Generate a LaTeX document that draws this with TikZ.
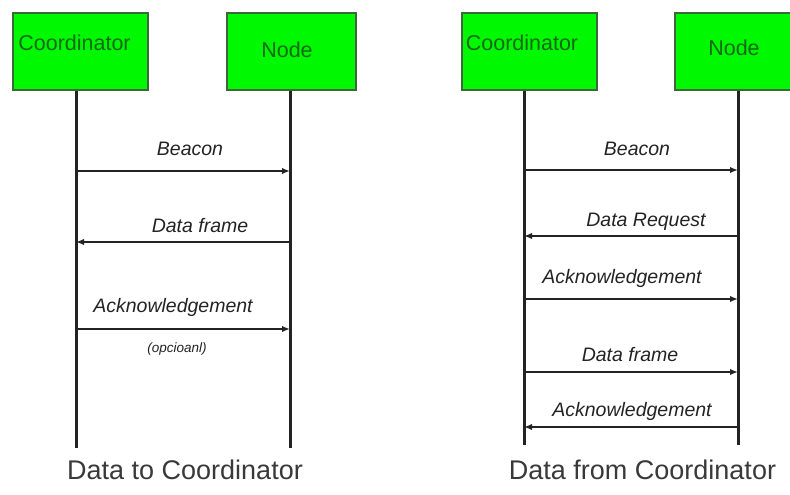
\documentclass[tikz,border=0pt]{standalone}
\usepackage{fontspec}
\setmainfont{Liberation Sans}
\usetikzlibrary{arrows.meta}
\definecolor{boxgreen}{RGB}{0,248,0}
\definecolor{boxedge}{RGB}{60,105,60}
\definecolor{boxtext}{RGB}{20,105,20}
\definecolor{ink}{RGB}{35,35,35}
\tikzset{
  actor/.style={draw=boxedge, line width=1.2pt, fill=boxgreen, minimum height=77pt, inner sep=0pt},
  actorname/.style={text=boxtext, font=\fontsize{21.5}{24}\selectfont, inner sep=0pt},
  life/.style={draw=ink, line width=3pt},
  msg/.style={draw=ink, line width=1.6pt, -{Latex[length=8pt,width=6.5pt]}},
  msgname/.style={text=ink, font=\fontsize{19.5}{22}\selectfont\itshape, inner sep=0pt, anchor=base},
  caption/.style={text=ink!90, font=\fontsize{27}{30}\selectfont, inner sep=0pt, anchor=base},
}
\begin{document}
\begin{tikzpicture}[x=1pt, y=-1pt]
		\useasboundingbox (0,0) rectangle (790,495);
		\clip (0,0) rectangle (790,495);
		% left: data to coordinator
		\node[actor, minimum width=135pt] (c1) at (80.5,51.5) {};
		\node[actor, minimum width=129pt] (n1) at (291.5,51.5) {};
		\node[actorname] (c1name) at (74.5,43) {Coordinator};
		\node[actorname] (n1name) at (287,50) {Node};
		\coordinate (c1end) at (76,448);
		\coordinate (n1end) at (290,448);
		\draw[life] (c1end |- c1.south) -- (c1end);
		\draw[life] (n1end |- n1.south) -- (n1end);
		\coordinate (a1) at (76,171);
		\coordinate (a2) at (76,242);
		\coordinate (a3) at (76,329);
		\draw[msg] (a1) -- (a1 -| n1end);
		\draw[msg] (a2 -| n1end) -- (a2);
		\draw[msg] (a3) -- (a3 -| n1end);
		\node[msgname] (a1name) at (190,155) {Beacon};
		\node[msgname] (a2name) at (200,232) {Data frame};
		\node[msgname] (a3name) at (173,312) {Acknowledgement};
		\node[msgname, font=\fontsize{13.5}{15}\selectfont\itshape] (a3note) at (177,352) {(opcioanl)};
		\node[caption] (cap1) at (185,479) {Data to Coordinator};
		% right: data from coordinator
		\node[actor, minimum width=135pt] (c2) at (529.5,51.5) {};
		\node[actor, minimum width=130pt] (n2) at (740,51.5) {};
		\node[actorname] (c2name) at (522,43) {Coordinator};
		\node[actorname] (n2name) at (734,48) {Node};
		\coordinate (c2end) at (524,445);
		\coordinate (n2end) at (738,445);
		\draw[life] (c2end |- c2.south) -- (c2end);
		\draw[life] (n2end |- n2.south) -- (n2end);
		\coordinate (b1) at (524,170);
		\coordinate (b2) at (524,236);
		\coordinate (b3) at (524,299);
		\coordinate (b4) at (524,372);
		\coordinate (b5) at (524,427);
		\draw[msg] (b1) -- (b1 -| n2end);
		\draw[msg] (b2 -| n2end) -- (b2);
		\draw[msg] (b3) -- (b3 -| n2end);
		\draw[msg] (b4) -- (b4 -| n2end);
		\draw[msg] (b5 -| n2end) -- (b5);
		\node[msgname] (b1name) at (637,155) {Beacon};
		\node[msgname] (b2name) at (646,226) {Data Request};
		\node[msgname] (b3name) at (622,283) {Acknowledgement};
		\node[msgname] (b4name) at (630,361) {Data frame};
		\node[msgname] (b5name) at (632,416) {Acknowledgement};
		\node[caption] (cap2) at (642.5,479) {Data from Coordinator};
\end{tikzpicture}
\end{document}
